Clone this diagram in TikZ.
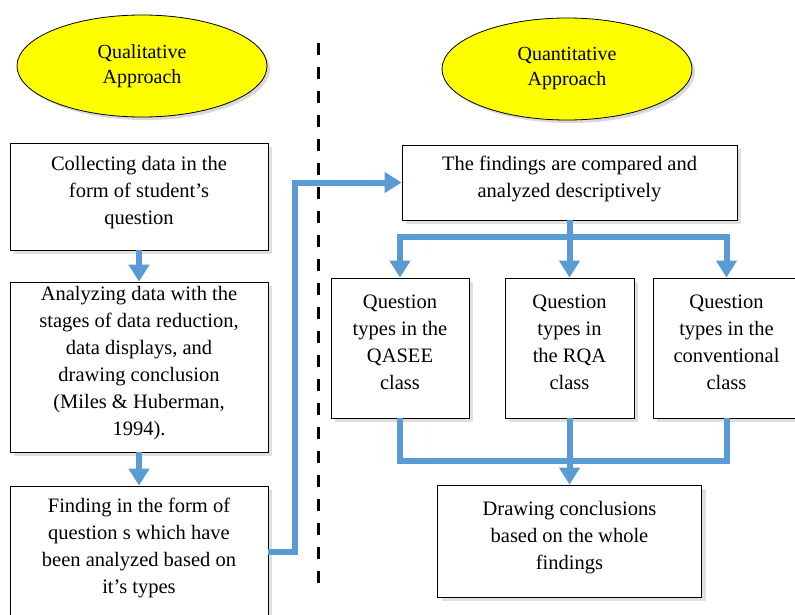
\documentclass[tikz,border=0pt]{standalone}
\usepackage{fontspec}
\setmainfont{Liberation Serif}
\usetikzlibrary{shapes.geometric,shadows,arrows.meta,calc}
\definecolor{flowblue}{HTML}{5B9BD5}
\definecolor{ovalyellow}{HTML}{FFFF00}
\tikzset{
  approach/.style={ellipse,draw,thick,fill=ovalyellow,inner sep=0pt,
    minimum width=250,minimum height=102,align=center,
    font=\fontsize{20}{25}\selectfont,
    drop shadow={opacity=0.3,shadow xshift=3pt,shadow yshift=-3pt}},
  stepbox/.style={rectangle,draw,thick,fill=white,inner sep=0pt,align=center,
    font=\fontsize{20.5}{27}\selectfont,text depth=12pt,
    drop shadow={opacity=0.25,shadow xshift=4pt,shadow yshift=-4pt}},
  link/.style={draw=flowblue,line width=6pt},
  flow/.style={link,-{Triangle[width=20pt,length=17pt]}}
}

\begin{document}
\begin{tikzpicture}[x=1pt,y=-1pt]
  \useasboundingbox (0,0) rectangle (795,614);
  \begin{scope}
  \clip (0,0) rectangle (795,614);

  \coordinate (divtop) at (318,43);
  \coordinate (divbot) at (318,592);
  \draw[line width=3pt,dash pattern=on 12pt off 12pt] (divtop) -- (divbot);

  \node[approach] (qual) at (142,66) {Qualitative\\Approach};
  \node[approach] (quant) at (567,69) {Quantitative\\Approach};

  \node[stepbox,minimum width=258,minimum height=107] (collect) at (139,196.5)
    {Collecting data in the\\form of student's\\question};
  \node[stepbox,minimum width=258,minimum height=170] (analyze) at (139,367)
    {Analyzing data with the\\stages of data reduction,\\data displays, and\\drawing conclusion\\(Miles \& Huberman,\\1994).};
  \node[stepbox,minimum width=258,minimum height=132] (finding) at (139,552)
    {Finding in the form of\\question s which have\\been analyzed based on\\it's types};

  \node[stepbox,minimum width=335,minimum height=75] (compare) at (569.5,182.5)
    {The findings are compared and\\analyzed descriptively};
  \node[stepbox,minimum width=138,minimum height=140] (qasee) at (400,348)
    {Question\\types in the\\QASEE\\class};
  \node[stepbox,minimum width=129,minimum height=140] (rqa) at (569.5,348)
    {Question\\types in\\the RQA\\class};
  \node[stepbox,minimum width=147,minimum height=140] (conv) at (726.5,348)
    {Question\\types in the\\conventional\\class};
  \node[stepbox,minimum width=264,minimum height=112] (conclude) at (569.5,541)
    {Drawing conclusions\\based on the whole\\findings};

  \draw[flow] (collect.south) -- (analyze.north);
  \draw[flow] (analyze.south) -- (finding.north);
  \draw[flow] (finding.east) -- ++(27,0) |- (compare.west);

  \coordinate (fork) at ($(compare.south)+(0,17)$);
  \draw[link] (compare.south) -- (fork);
  \draw[flow] (fork) -| (qasee.north);
  \draw[flow] (fork) -- (rqa.north);
  \draw[flow] (fork) -| (conv.north);

  \coordinate (merge) at ($(rqa.south)+(0,43)$);
  \draw[link] (qasee.south) |- (merge);
  \draw[link] (conv.south) |- (merge);
  \draw[flow] (rqa.south) -- (conclude.north);
  \end{scope}
\end{tikzpicture}
\end{document}
